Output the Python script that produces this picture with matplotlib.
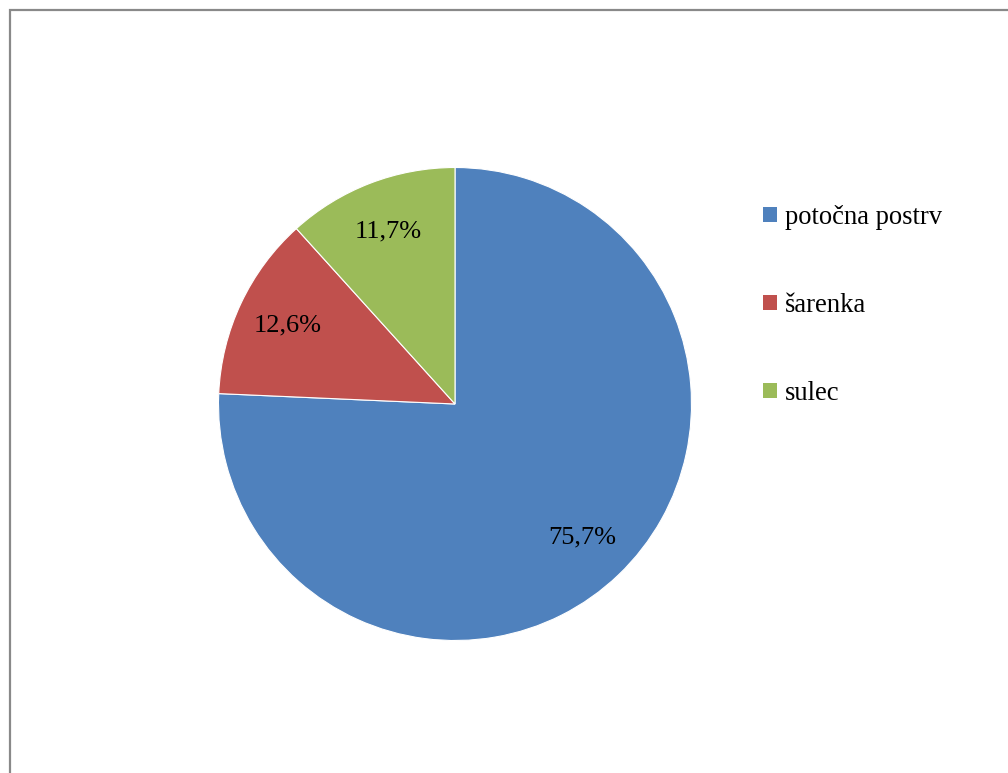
import matplotlib
matplotlib.use("Agg")
import matplotlib.pyplot as plt
from matplotlib.patches import Rectangle, Patch

species = ["potočna postrv", "šarenka", "sulec"]
shares = [75.7, 12.6, 11.7]
colors = ["#4F81BD", "#C0504D", "#9BBB59"]

W, H = 1008, 773
fig = plt.figure(figsize=(W / 100, H / 100), dpi=100)
plt.rcParams["font.family"] = ["Liberation Serif", "DejaVu Serif"]

# outer chart frame (right and bottom run off the canvas)
fig.patches.append(Rectangle((10 / W, -0.05), 1.1, (H - 10.5) / H + 0.05,
                             transform=fig.transFigure, fill=False,
                             edgecolor="#898989", linewidth=1.6))

cx, cy, r = 455, 404, 236.5
ax = fig.add_axes([(cx - r) / W, (H - cy - r) / H, 2 * r / W, 2 * r / H])

wedges, _, autotexts = ax.pie(
    shares, colors=colors, startangle=90, counterclock=False,
    autopct=lambda p: f"{p:.1f}%".replace(".", ","), pctdistance=0.78,
    wedgeprops=dict(edgecolor="white", linewidth=0.8),
    textprops=dict(fontsize=19, color="black"))
ax.set_xlim(-1, 1)
ax.set_ylim(-1, 1)
ax.set_aspect("equal")

handles = [Patch(facecolor=c, edgecolor="none") for c in colors]
fig.legend(handles, species, loc="upper left",
           bbox_to_anchor=(763 / W, 1 - 205 / H), frameon=False,
           fontsize=19.2, handlelength=0.52, handleheight=0.52,
           handletextpad=0.3, labelspacing=2.36, borderaxespad=0,
           borderpad=0)

fig.savefig("out.png", dpi=100)
